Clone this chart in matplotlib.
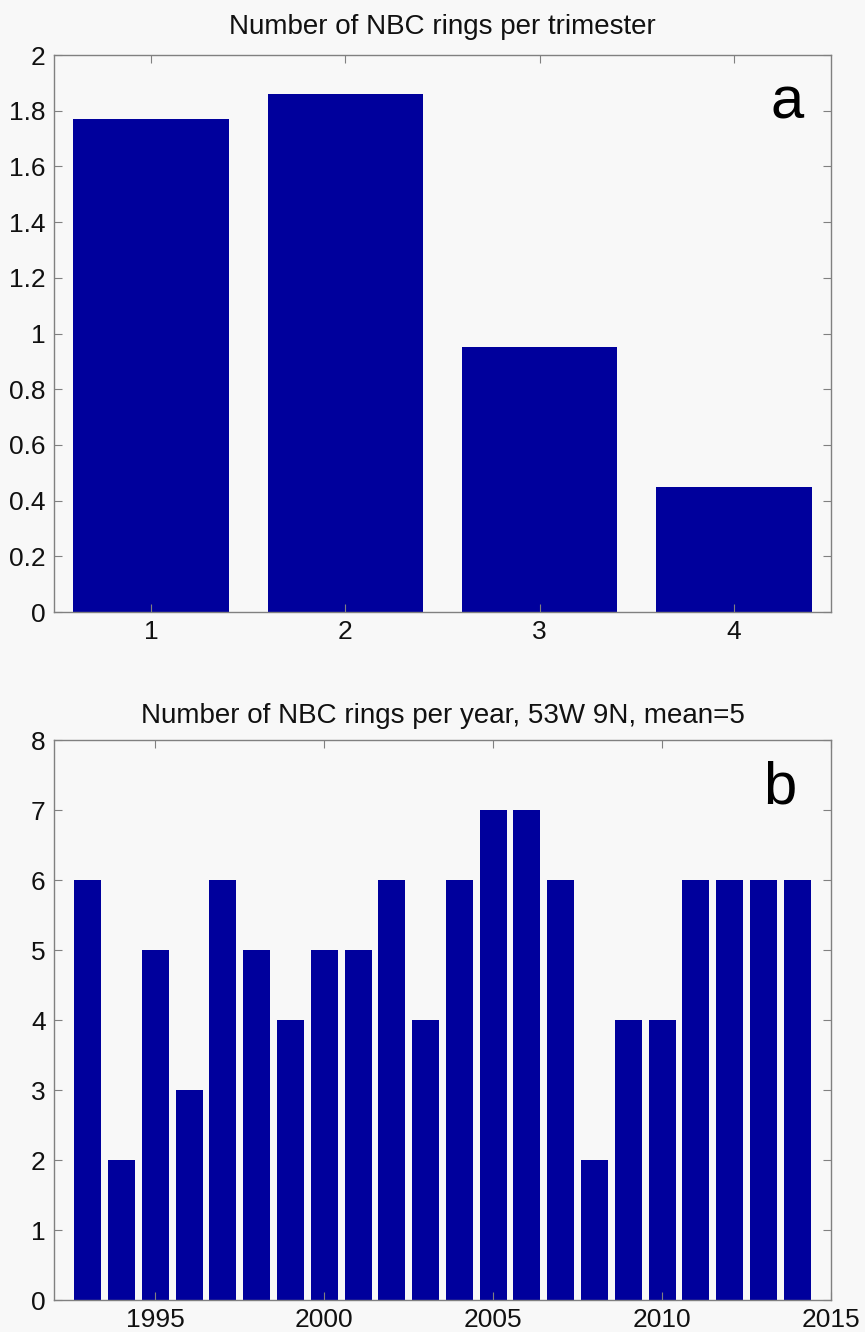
import matplotlib.pyplot as plt

plt.rcParams["font.family"] = ["Liberation Sans", "DejaVu Sans"]

trimesters = [1, 2, 3, 4]
rings_per_trimester = [1.77, 1.86, 0.95, 0.45]

years = list(range(1993, 2015))
rings_per_year = [6, 2, 5, 3, 6, 5, 4, 5, 5, 6, 4, 6, 7, 7, 6, 2, 4, 4, 6, 6, 6, 6]

bar_color = "#00009c"
bg = "#f8f8f8"

fig = plt.figure(figsize=(8.65, 13.32), dpi=100, facecolor=bg)
ax1 = fig.add_axes([0.0624, 0.5405, 0.8983, 0.4182], facecolor=bg)
ax2 = fig.add_axes([0.0624, 0.0240, 0.8983, 0.4204], facecolor=bg)


def style_axes(ax):
    for side in ax.spines.values():
        side.set_color("#808080")
        side.set_linewidth(1.0)
    ax.tick_params(direction="in", top=True, right=True, length=6,
                   color="#808080", labelsize=19, labelcolor="#111111", pad=6)


ax1.bar(trimesters, rings_per_trimester, width=0.8, color=bar_color)
ax1.set_xlim(0.5, 4.5)
ax1.set_ylim(0, 2)
ax1.set_xticks(trimesters)
ax1.set_yticks([0, 0.2, 0.4, 0.6, 0.8, 1, 1.2, 1.4, 1.6, 1.8, 2])
ax1.set_yticklabels(["0", "0.2", "0.4", "0.6", "0.8", "1", "1.2", "1.4", "1.6", "1.8", "2"])
ax1.set_title("Number of NBC rings per trimester", fontsize=20, pad=15, color="#111111")
ax1.text(0.965, 0.913, "a", transform=ax1.transAxes, fontsize=43, ha="right", va="center")
style_axes(ax1)

ax2.bar(years, rings_per_year, width=0.8, color=bar_color)
ax2.set_xlim(1992, 2015)
ax2.set_ylim(0, 8)
ax2.set_xticks([1995, 2000, 2005, 2010, 2015])
ax2.set_yticks(range(0, 9))
ax2.set_title("Number of NBC rings per year, 53W 9N, mean=5", fontsize=20, pad=12, color="#111111")
ax2.text(0.955, 0.915, "b", transform=ax2.transAxes, fontsize=43, ha="right", va="center")
style_axes(ax2)

fig.savefig("out.png", dpi=100, facecolor=bg)
